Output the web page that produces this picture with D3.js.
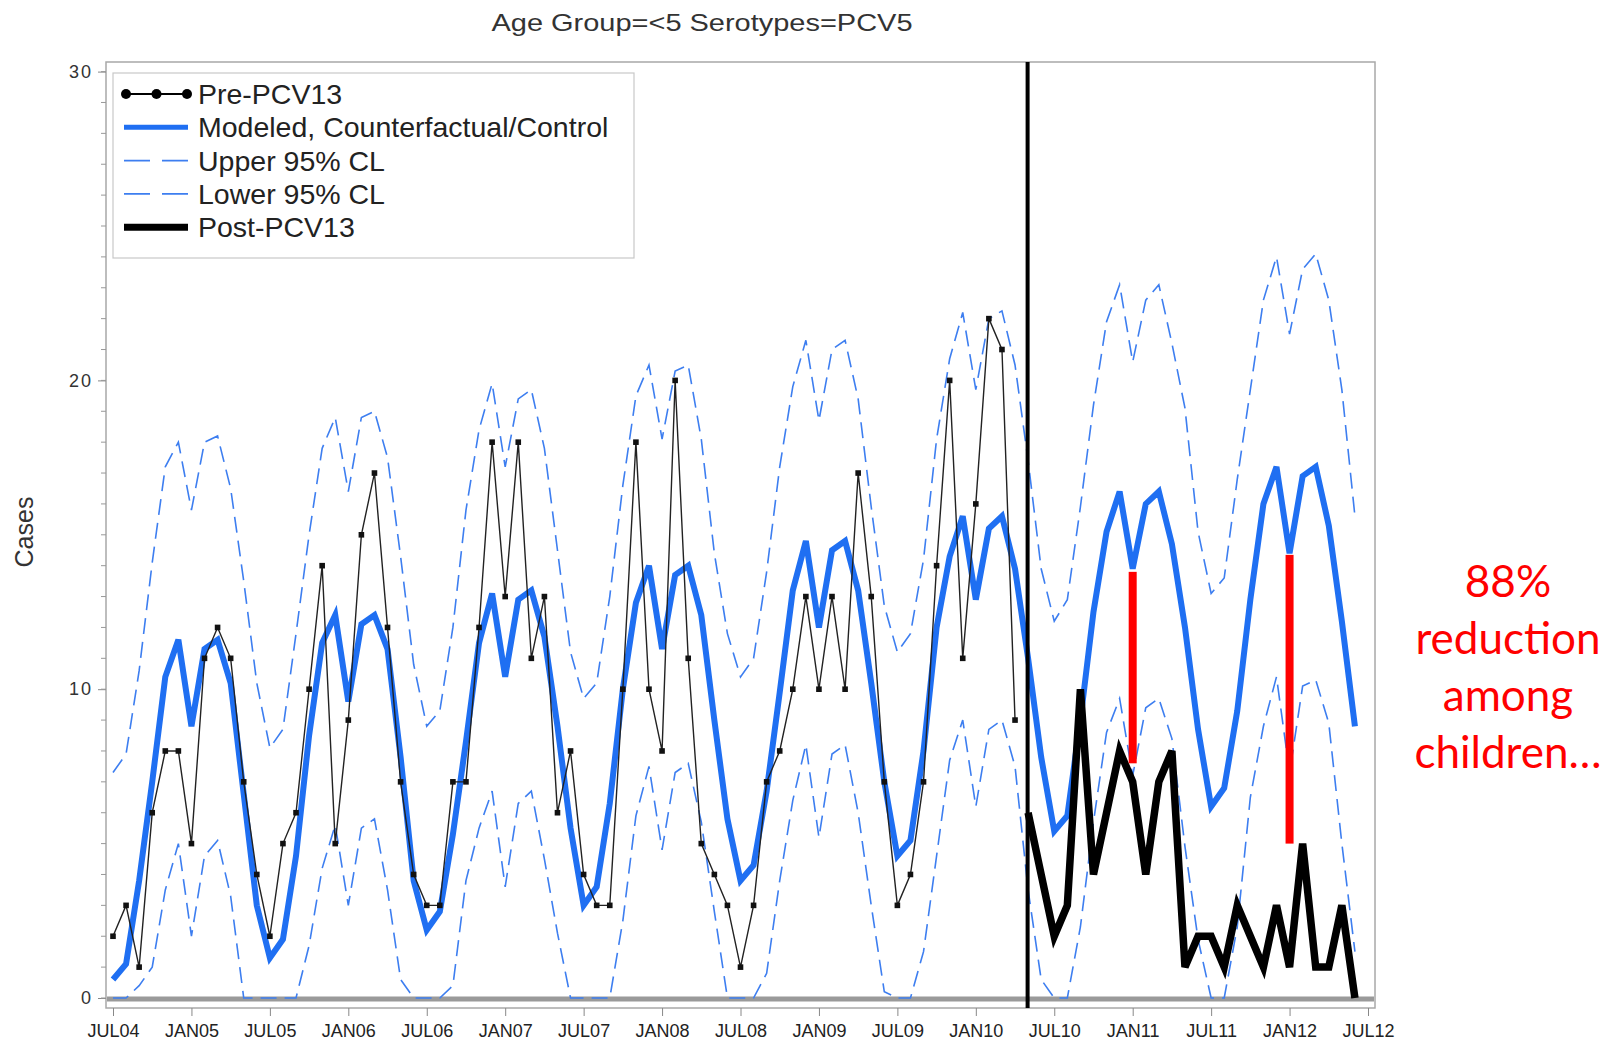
<!DOCTYPE html>
<html>
<head>
<meta charset="utf-8">
<script src="https://cdn.jsdelivr.net/npm/d3@7"></script>
<style>
  body { margin: 0; background: #fff; }
  svg { display: block; }
</style>
</head>
<body>
<div id="chart"></div>
<script>
// month 0 = JUL04 ... month 96 = JUL12
var tickLabels = ["JUL04","JAN05","JUL05","JAN06","JUL06","JAN07","JUL07","JAN08","JUL08",
                  "JAN09","JUL09","JAN10","JUL10","JAN11","JUL11","JAN12","JUL12"];

// observed cases before PCV13 (months 0-69)
var preCases = [2,3,1,6,8,8,5,11,12,11, 7,4,2,5,6,10,14,5,9,15,
                17,12,7,4,3,3,7,7,12,18, 13,18,11,13,6,8,4,3,3,10,
                18,10,8,20,11,5,4,3,1,3, 7,8,10,13,10,13,10,17,13,7,
                3,4,7,14,20,11,16,22,21,9];

// observed cases after PCV13 (months 70-95)
var postStart = 70;
var postCases = [6,4,2,3,10,4,6,8,7,4, 7,8,1,2,2,1,3,2,1,3, 1,5,1,1,3,0];

// modeled counterfactual (months 0-95)
var modeled = [0.6,1.1,3.8,7.0,10.4,11.6,8.8,11.3,11.6,10.2, 6.6,3.0,1.3,1.9,4.6,8.5,11.5,12.4,9.6,12.1,
               12.4,11.3,7.8,3.8,2.2,2.8,5.3,8.3,11.5,13.1, 10.4,12.9,13.2,11.7,8.8,5.5,3.0,3.6,6.3,10.0,
               12.8,14.0,11.3,13.7,14.0,12.4,9.0,5.8,3.8,4.3, 6.7,9.9,13.2,14.8,12.0,14.5,14.8,13.2,10.2,7.0,
               4.6,5.1,8.0,12.0,14.3,15.6,12.9,15.2,15.6,13.9, 11.0,7.8,5.4,5.9,9.0,12.5,15.1,16.4,13.9,16.0,
               16.4,14.7,12.0,8.7,6.2,6.8,9.3,12.9,16.0,17.2, 14.4,16.9,17.2,15.3,12.2,8.8];

var upperCL = [7.3,7.9,10.6,14.1,17.2,18.0,15.8,18.0,18.2,16.5, 13.5,10.2,8.1,8.7,11.8,15.0,17.8,18.8,16.4,18.8,
               19.0,17.5,14.3,10.8,8.8,9.3,12.0,15.8,18.4,19.9, 17.2,19.4,19.7,17.8,14.5,11.2,9.7,10.2,13.0,16.6,
               19.5,20.5,18.1,20.3,20.5,18.1,14.4,11.8,10.4,11.0, 13.8,17.2,19.8,21.3,18.7,21.0,21.3,19.4,15.9,12.7,
               11.2,11.8,14.2,18.1,20.7,22.2,19.7,22.0,22.25,20.5, 17.4,13.9,12.2,12.9,15.9,19.2,21.9,23.1,20.6,22.6,
               23.1,21.2,19.1,15.1,13.1,13.6,16.8,19.7,22.6,24.0, 21.5,23.6,24.1,22.6,19.7,15.6];

var lowerCL = [0,0,0.4,1.0,3.5,5.0,2.0,4.6,5.1,3.3, 0,0,0,0,0,1.7,4.2,5.6,3.0,5.5,
               5.8,3.5,0.6,0,0,0,0.4,3.8,5.5,6.7, 3.6,6.3,6.7,4.5,2.1,0,0,0,0,2.5,
               5.9,7.5,4.8,7.3,7.6,5.7,2.8,0,0,0, 0.8,3.8,6.4,8.2,5.2,7.9,8.2,6.0,3.0,0.2,
               0,0,1.5,4.6,7.7,9.0,6.2,8.7,9.0,7.5, 3.5,0.6,0,0,2.3,5.7,8.6,9.7,7.2,9.4,
               9.7,8.4,4.9,1.9,0,0,2.3,6.5,8.8,10.4, 7.3,10.1,10.3,8.9,5.0,1.5];

// red gaps between model and observed
var gapMonths = [78, 90];
var gapTop = [13.8, 14.35];
var gapBottom = [7.6, 5.0];

var noteLines = ["88%", "reduction", "among", "children\u2026"];

var legendNames = ["Pre-PCV13", "Modeled, Counterfactual/Control", "Upper 95% CL", "Lower 95% CL", "Post-PCV13"];

var blue = "#1f6ff2";
var ciBlue = "#3d7ef0";

var svg = d3.select("#chart").append("svg")
  .attr("width", 1615)
  .attr("height", 1046);

var x = d3.scaleLinear().domain([0, 96]).range([113, 1368]);
var y = d3.scaleLinear().domain([0, 30]).range([998, 71.6]);

var plotLeft = 106, plotRight = 1375, plotTop = 62, plotBottom = 1008;

/* title */
svg.append("text")
  .attr("x", 702).attr("y", 31)
  .attr("text-anchor", "middle")
  .attr("font-family", "Liberation Sans, Arial, sans-serif")
  .attr("font-size", 24)
  .attr("textLength", 421)
  .attr("lengthAdjust", "spacingAndGlyphs")
  .attr("fill", "#333")
  .text("Age Group=<5 Serotypes=PCV5");

/* frame */
svg.append("rect")
  .attr("x", plotLeft).attr("y", plotTop)
  .attr("width", plotRight - plotLeft).attr("height", plotBottom - plotTop)
  .attr("fill", "#fff")
  .attr("stroke", "#a8a8a8")
  .attr("stroke-width", 1.5);

/* y axis */
var yAxis = d3.axisLeft(y).tickValues([0, 10, 20, 30]).tickSize(8).tickPadding(5);
var gy = svg.append("g").attr("transform", "translate(" + plotLeft + ",0)").call(yAxis);
gy.select(".domain").remove();
gy.selectAll(".tick line").attr("stroke", "#888");
gy.selectAll(".tick text")
  .attr("font-family", "Liberation Sans, Arial, sans-serif")
  .attr("font-size", 18)
  .attr("letter-spacing", 2)
  .attr("fill", "#333");

svg.selectAll("line.minor-y")
  .data(d3.range(0, 31))
  .enter()
  .append("line")
  .attr("class", "minor-y")
  .attr("x1", plotLeft - 5).attr("x2", plotLeft)
  .attr("y1", function(d) { return y(d); })
  .attr("y2", function(d) { return y(d); })
  .attr("stroke", "#999")
  .attr("stroke-width", 1);

svg.append("text")
  .attr("transform", "translate(33,532) rotate(-90)")
  .attr("text-anchor", "middle")
  .attr("font-family", "Liberation Sans, Arial, sans-serif")
  .attr("font-size", 25)
  .attr("fill", "#333")
  .text("Cases");

/* x axis */
var xAxis = d3.axisBottom(x)
  .tickValues(d3.range(0, 97, 6))
  .tickFormat(function(d, i) { return tickLabels[i]; })
  .tickSize(8)
  .tickPadding(8);
var gx = svg.append("g").attr("transform", "translate(0," + plotBottom + ")").call(xAxis);
gx.select(".domain").remove();
gx.selectAll(".tick line").attr("stroke", "#888");
gx.selectAll(".tick text")
  .attr("font-family", "Liberation Sans, Arial, sans-serif")
  .attr("font-size", 18)
  .attr("fill", "#222");

/* zero reference line */
svg.append("line")
  .attr("x1", plotLeft + 1).attr("x2", plotRight - 1)
  .attr("y1", y(0) + 1).attr("y2", y(0) + 1)
  .attr("stroke", "#9a9a9a")
  .attr("stroke-width", 5);

var line = d3.line()
  .x(function(d, i) { return x(i); })
  .y(function(d) { return y(d); });

/* confidence limits */
[upperCL, lowerCL].forEach(function(series) {
  svg.append("path")
    .attr("d", line(series))
    .attr("fill", "none")
    .attr("stroke", ciBlue)
    .attr("stroke-width", 1.6)
    .attr("stroke-dasharray", "16,8");
});

/* modeled */
svg.append("path")
  .attr("d", line(modeled))
  .attr("fill", "none")
  .attr("stroke", blue)
  .attr("stroke-width", 6)
  .attr("stroke-linejoin", "miter");

/* pre-PCV13 */
svg.append("path")
  .attr("d", line(preCases))
  .attr("fill", "none")
  .attr("stroke", "#222")
  .attr("stroke-width", 1.4);

svg.selectAll("rect.pre")
  .data(preCases)
  .enter()
  .append("rect")
  .attr("class", "pre")
  .attr("x", function(d, i) { return x(i) - 2.8; })
  .attr("y", function(d) { return y(d) - 2.8; })
  .attr("width", 5.6).attr("height", 5.6)
  .attr("fill", "#111");

/* post-PCV13 */
var postLine = d3.line()
  .x(function(d, i) { return x(postStart + i); })
  .y(function(d) { return y(d); });

svg.append("path")
  .attr("d", postLine(postCases))
  .attr("fill", "none")
  .attr("stroke", "#000")
  .attr("stroke-width", 7.5)
  .attr("stroke-linejoin", "miter");

/* PCV13 introduction */
svg.append("line")
  .attr("x1", x(postStart) - 0.5).attr("x2", x(postStart) - 0.5)
  .attr("y1", plotTop).attr("y2", plotBottom)
  .attr("stroke", "#000")
  .attr("stroke-width", 4);

/* red reduction bars */
svg.selectAll("rect.gap")
  .data(gapMonths)
  .enter()
  .append("rect")
  .attr("class", "gap")
  .attr("x", function(d) { return x(d) - 4; })
  .attr("y", function(d, i) { return y(gapTop[i]); })
  .attr("width", 8)
  .attr("height", function(d, i) { return y(gapBottom[i]) - y(gapTop[i]); })
  .attr("fill", "#ff0000");

/* legend */
var lg = svg.append("g");
lg.append("rect")
  .attr("x", 113).attr("y", 73)
  .attr("width", 521).attr("height", 185)
  .attr("fill", "#fff")
  .attr("stroke", "#c8c8c8")
  .attr("stroke-width", 1.2);

var rowY = function(i) { return 94 + i * 33.3; };

lg.selectAll("text")
  .data(legendNames)
  .enter()
  .append("text")
  .attr("x", 198)
  .attr("y", function(d, i) { return rowY(i) + 10; })
  .attr("font-family", "Liberation Sans, Arial, sans-serif")
  .attr("font-size", 28.5)
  .attr("fill", "#222")
  .text(function(d) { return d; });

lg.append("line")
  .attr("x1", 126).attr("x2", 187)
  .attr("y1", rowY(0)).attr("y2", rowY(0))
  .attr("stroke", "#000").attr("stroke-width", 2);
lg.selectAll("circle")
  .data([126, 156.5, 187])
  .enter()
  .append("circle")
  .attr("cx", function(d) { return d; })
  .attr("cy", rowY(0))
  .attr("r", 5)
  .attr("fill", "#000");

lg.append("line")
  .attr("x1", 124).attr("x2", 188)
  .attr("y1", rowY(1)).attr("y2", rowY(1))
  .attr("stroke", blue).attr("stroke-width", 5);

[2, 3].forEach(function(r) {
  lg.append("line")
    .attr("x1", 124).attr("x2", 188)
    .attr("y1", rowY(r)).attr("y2", rowY(r))
    .attr("stroke", ciBlue).attr("stroke-width", 1.6)
    .attr("stroke-dasharray", "26,12");
});

lg.append("line")
  .attr("x1", 124).attr("x2", 188)
  .attr("y1", rowY(4)).attr("y2", rowY(4))
  .attr("stroke", "#000").attr("stroke-width", 7);

/* annotation */
svg.selectAll("text.note")
  .data(noteLines)
  .enter()
  .append("text")
  .attr("class", "note")
  .attr("x", 1508)
  .attr("y", function(d, i) { return 597 + i * 57; })
  .attr("text-anchor", "middle")
  .attr("font-family", "Lato, 'Open Sans', sans-serif")
  .attr("font-size", 44)
  .attr("fill", "#ff0000")
  .text(function(d) { return d; });
</script>
</body>
</html>
